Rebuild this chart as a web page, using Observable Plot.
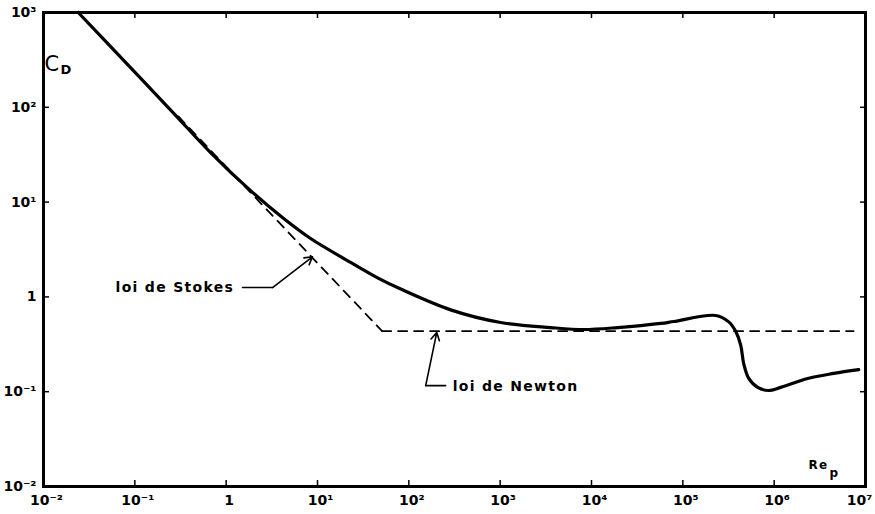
<!DOCTYPE html>
<html>
<head>
<meta charset="utf-8">
<script src="https://cdn.jsdelivr.net/npm/d3@7"></script>
<script src="https://cdn.jsdelivr.net/npm/@observablehq/plot@0.6"></script>
<style>
  html, body { margin: 0; padding: 0; background: #fff; }
  svg { display: block; }
  g[aria-label="text"] text { letter-spacing: 1.3px; }
</style>
</head>
<body>
<div id="chart"></div>
<script>
// Drag coefficient curve (solid)
const curveRe = [0.024, 0.065, 0.265, 0.675, 1.85, 4.26, 8.4, 23.1, 45.5, 81.5, 287, 1012, 3570, 8220, 19400, 57300, 79400, 229000, 318000, 380000, 430000, 464000, 527000, 660000, 870000, 1180000, 2330000, 4500000, 8430000];
const curveCD = [1000, 364, 87, 33.3, 13.2, 6.71, 4.13, 2.31, 1.59, 1.21, 0.73, 0.537, 0.475, 0.453, 0.475, 0.525, 0.55, 0.637, 0.545, 0.431, 0.31, 0.198, 0.138, 0.111, 0.103, 0.111, 0.138, 0.156, 0.171];

// Asymptotes (dashed)
const stokesRe = [0.3, 51];
const stokesCD = [80, 0.435];
const newtonRe = [51, 7.4e6];
const newtonCD = [0.435, 0.435];

// Ticks
const xTicks = [1e-2, 1e-1, 1, 1e1, 1e2, 1e3, 1e4, 1e5, 1e6, 1e7];
const xTickLabels = ["10⁻²", "10⁻¹", "1", "10¹", "10²", "10³", "10⁴", "10⁵", "10⁶", "10⁷"];
const yTicks = [1e-2, 1e-1, 1, 1e1, 1e2, 1e3];
const yTickLabels = ["10⁻²", "10⁻¹", "1", "10¹", "10²", "10³"];

// Annotations (data coordinates)
const stokesLabel = {text: "loi de Stokes", Re: 0.0615, CD: 1.256};
const stokesLeaderRe = [1.51, 3.22];
const stokesLeaderCD = [1.256, 1.256];
const stokesTip = {Re: 8.8, CD: 2.65};
const newtonLabel = {text: "loi de Newton", Re: 302, CD: 0.113};
const newtonLeaderRe = [253, 153];
const newtonLeaderCD = [0.116, 0.116];
const newtonTip = {Re: 202, CD: 0.42};

const curve = curveRe.map((r, i) => ({Re: r, CD: curveCD[i]}));
const stokes = stokesRe.map((r, i) => ({Re: r, CD: stokesCD[i]}));
const newton = newtonRe.map((r, i) => ({Re: r, CD: newtonCD[i]}));
const sLeader = stokesLeaderRe.map((r, i) => ({Re: r, CD: stokesLeaderCD[i]}));
const nLeader = newtonLeaderRe.map((r, i) => ({Re: r, CD: newtonLeaderCD[i]}));

const same = (a, b) => Math.abs(Math.log10(a) - Math.log10(b)) < 1e-6;
const xFmt = d => xTickLabels[xTicks.findIndex(t => same(t, d))];
const yFmt = d => yTickLabels[yTicks.findIndex(t => same(t, d))];
const none = () => "";
const xTicksMain = xTicks.slice(0, -1);
const xTicksLast = xTicks.slice(-1);

const chart = Plot.plot({
  width: 875,
  height: 514,
  marginLeft: 43,
  marginRight: 10,
  marginTop: 12,
  marginBottom: 28,
  style: {fontFamily: "DejaVu Sans", fontWeight: "bold", fontSize: "14px", background: "white", color: "black", overflow: "visible"},
  x: {type: "log", domain: [1e-2, 1e7]},
  y: {type: "log", domain: [1e-2, 1e3]},
  marks: [
    Plot.axisX(xTicksMain, {anchor: "bottom", tickSize: 0, tickPadding: 9, tickFormat: xFmt, label: null, fontSize: 14, dx: 3}),
    Plot.axisX(xTicksLast, {anchor: "bottom", tickSize: 0, tickPadding: 9, tickFormat: xFmt, label: null, fontSize: 14, dx: -6}),
    Plot.axisX(xTicks, {anchor: "bottom", tickSize: -6, tickFormat: none, label: null, strokeWidth: 1.5}),
    Plot.axisX(xTicks, {anchor: "top", tickSize: -5, tickFormat: none, label: null, strokeWidth: 1.5}),
    Plot.axisY(yTicks, {anchor: "left", tickSize: 0, tickPadding: 7, tickFormat: yFmt, label: null, fontSize: 14}),
    Plot.axisY(yTicks, {anchor: "left", tickSize: -6, tickFormat: none, label: null, strokeWidth: 1.5}),
    Plot.axisY(yTicks, {anchor: "right", tickSize: -6, tickFormat: none, label: null, strokeWidth: 1.5}),
    Plot.frame({stroke: "black", strokeWidth: 3}),
    Plot.line(stokes, {x: "Re", y: "CD", stroke: "black", strokeWidth: 1.8, strokeDasharray: "9,7"}),
    Plot.line(newton, {x: "Re", y: "CD", stroke: "black", strokeWidth: 1.8, strokeDasharray: "9,7"}),
    Plot.line(curve, {x: "Re", y: "CD", curve: "catmull-rom", stroke: "black", strokeWidth: 3.2}),
    // Stokes annotation
    Plot.text([stokesLabel], {x: "Re", y: "CD", text: "text", textAnchor: "start", fontSize: 14, fontWeight: "bold"}),
    Plot.line(sLeader, {x: "Re", y: "CD", stroke: "black", strokeWidth: 1.6}),
    Plot.arrow([stokesTip], {x1: () => stokesLeaderRe[1], y1: () => stokesLeaderCD[1], x2: "Re", y2: "CD", stroke: "black", strokeWidth: 1.6, headLength: 8}),
    // Newton annotation
    Plot.text([newtonLabel], {x: "Re", y: "CD", text: "text", textAnchor: "start", fontSize: 14, fontWeight: "bold"}),
    Plot.line(nLeader, {x: "Re", y: "CD", stroke: "black", strokeWidth: 1.6}),
    Plot.arrow([newtonTip], {x1: () => newtonLeaderRe[1], y1: () => newtonLeaderCD[1], x2: "Re", y2: "CD", stroke: "black", strokeWidth: 1.6, headLength: 8}),
    // Axis titles
    Plot.text(["C"], {frameAnchor: "top-left", dx: 1, dy: 44, text: d => d, textAnchor: "start", fontSize: 21, fontWeight: "normal"}),
    Plot.text(["D"], {frameAnchor: "top-left", dx: 17, dy: 52, text: d => d, textAnchor: "start", fontSize: 13, fontWeight: "bold"}),
    Plot.text(["Re"], {frameAnchor: "bottom-right", dx: -37, dy: -18, text: d => d, textAnchor: "end", fontSize: 12, fontWeight: "bold"}),
    Plot.text(["p"], {frameAnchor: "bottom-right", dx: -36, dy: -10, text: d => d, textAnchor: "start", fontSize: 12, fontWeight: "bold"})
  ]
});
document.getElementById("chart").appendChild(chart);
</script>
</body>
</html>
